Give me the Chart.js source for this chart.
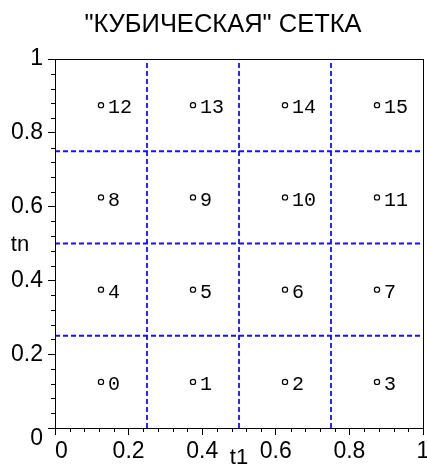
<!DOCTYPE html>
<html>
<head>
<meta charset="utf-8">
<script src="https://cdn.jsdelivr.net/npm/chart.js@4/dist/chart.umd.min.js"></script>
<style>
  html, body { margin: 0; padding: 0; background: #fff; overflow: hidden; width: 427px; height: 465px; }
  canvas { display: block; }
</style>
</head>
<body>
<canvas id="c" width="440" height="465"></canvas>
<script>
// cell centres of the 4x4 "cubic" grid, numbered row by row from the bottom
var pointX = [0.125, 0.375, 0.625, 0.875, 0.125, 0.375, 0.625, 0.875, 0.125, 0.375, 0.625, 0.875, 0.125, 0.375, 0.625, 0.875];
var pointY = [0.125, 0.125, 0.125, 0.125, 0.375, 0.375, 0.375, 0.375, 0.625, 0.625, 0.625, 0.625, 0.875, 0.875, 0.875, 0.875];
var pointLabels = ['0', '1', '2', '3', '4', '5', '6', '7', '8', '9', '10', '11', '12', '13', '14', '15'];
var gridCuts = [0.25, 0.5, 0.75];
var chartTitle = '"КУБИЧЕСКАЯ" СЕТКА';
var xTitle = 't1';
var yTitle = 'tn';

var AXIS_FONT = '"Liberation Sans", Arial, sans-serif';
var LABEL_FONT = '"Liberation Mono", "Courier New", monospace';

var datasets = [];
gridCuts.forEach(function (c) {
    datasets.push({ type: 'line', data: [{ x: c, y: 0 }, { x: c, y: 1 }], borderColor: '#1010ff', borderWidth: 1.8, borderDash: [5, 3], pointRadius: 0, fill: false });
    datasets.push({ type: 'line', data: [{ x: 0, y: c }, { x: 1, y: c }], borderColor: '#1010ff', borderWidth: 1.8, borderDash: [5, 3], pointRadius: 0, fill: false });
});
datasets.push({
    type: 'scatter',
    data: pointX.map(function (x, i) { return { x: x, y: pointY[i] }; }),
    pointRadius: 2.6,
    pointBorderWidth: 1.2,
    pointBorderColor: '#000',
    pointBackgroundColor: '#fff',
    labelsText: pointLabels
});

function fmt(v) {
    return String(Math.round(v * 10) / 10);
}

var decorations = {
    id: 'decorations',
    afterDatasetsDraw: function (chart) {
        var ctx = chart.ctx;
        var a = chart.chartArea;
        var xs = chart.scales.x, ys = chart.scales.y;
        ctx.save();
        // frame
        ctx.strokeStyle = '#000';
        ctx.lineWidth = 1;
        ctx.strokeRect(Math.round(a.left) + 0.5, Math.round(a.top) + 0.5, Math.round(a.right - a.left), Math.round(a.bottom - a.top));
        // minor ticks every 0.04
        ctx.beginPath();
        for (var i = 1; i < 25; i++) {
            if (i % 5 === 0) continue;
            var v = i * 0.04;
            var px = Math.round(xs.getPixelForValue(v)) + 0.5;
            ctx.moveTo(px, a.bottom);
            ctx.lineTo(px, a.bottom + 4);
            var py = Math.round(ys.getPixelForValue(v)) + 0.5;
            ctx.moveTo(a.left, py);
            ctx.lineTo(a.left - 4, py);
        }
        ctx.stroke();
        // point numbers
        var meta = chart.getDatasetMeta(chart.data.datasets.length - 1);
        var texts = chart.data.datasets[chart.data.datasets.length - 1].labelsText;
        ctx.fillStyle = '#000';
        ctx.font = '20px ' + LABEL_FONT;
        ctx.textAlign = 'left';
        ctx.textBaseline = 'middle';
        meta.data.forEach(function (el, k) {
            ctx.fillText(texts[k], el.x + 7, el.y + 3);
        });
        // axis titles
        ctx.font = '22px ' + AXIS_FONT;
        ctx.textAlign = 'center';
        ctx.fillText(yTitle, 20, ys.getPixelForValue(0.5) + 1);
        ctx.textBaseline = 'top';
        ctx.fillText(xTitle, xs.getPixelForValue(0.5), 447);
        // chart title
        ctx.font = '25.5px ' + AXIS_FONT;
        ctx.textBaseline = 'alphabetic';
        ctx.fillText(chartTitle, 223, 32);
        ctx.restore();
    }
};

new Chart(document.getElementById('c'), {
    data: { datasets: datasets },
    options: {
        responsive: false,
        animation: false,
        layout: { padding: { left: 0, right: 17, top: 59, bottom: 0 } },
        plugins: {
            legend: { display: false },
            tooltip: { enabled: false },
            title: { display: false }
        },
        scales: {
            x: {
                type: 'linear',
                min: 0,
                max: 1,
                border: { display: true, color: '#000', width: 1 },
                grid: { drawOnChartArea: false, tickLength: 7, tickColor: '#000' },
                ticks: {
                    stepSize: 0.2,
                    color: '#000',
                    padding: 3,
                    maxRotation: 0,
                    autoSkip: false,
                    font: { family: AXIS_FONT, size: 23 },
                    callback: function (v) { return v === 0 ? '  0' : fmt(v); }
                },
                afterFit: function (s) { s.height = 37; s.paddingLeft = 0; s.paddingRight = 0; }
            },
            y: {
                type: 'linear',
                min: 0,
                max: 1,
                border: { display: true, color: '#000', width: 1 },
                grid: { drawOnChartArea: false, tickLength: 7, tickColor: '#000' },
                ticks: {
                    stepSize: 0.2,
                    color: '#000',
                    padding: 5,
                    autoSkip: false,
                    font: { family: AXIS_FONT, size: 23, lineHeight: 0.9 },
                    callback: function (v) { return v === 0 ? ['', '0'] : fmt(v); }
                },
                afterFit: function (s) { s.width = 55; s.paddingTop = 0; s.paddingBottom = 0; }
            }
        }
    },
    plugins: [decorations]
});
</script>
</body>
</html>
